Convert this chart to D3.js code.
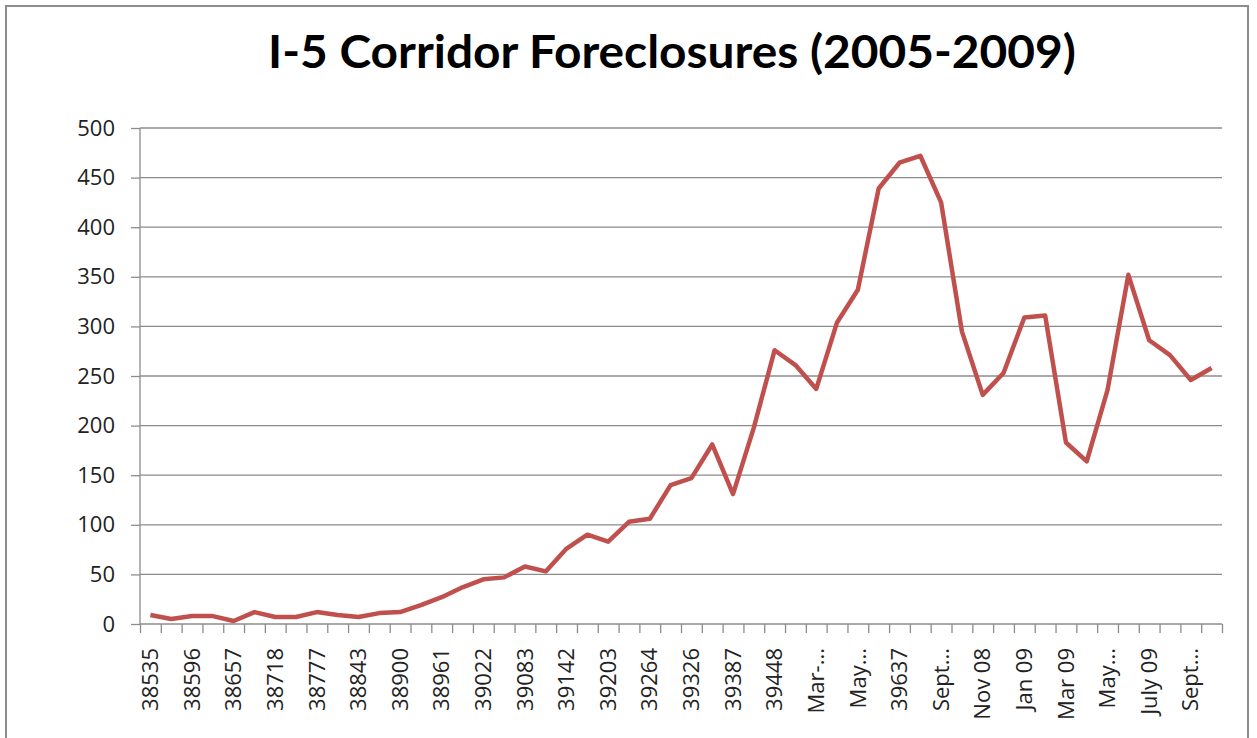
<!DOCTYPE html>
<html>
<head>
<meta charset="utf-8">
<script src="https://cdn.jsdelivr.net/npm/d3@7"></script>
<style>
    body { margin: 0; background: #fff; }
    text { font-family: "Open Sans", sans-serif; }
</style>
</head>
<body>
<script>
let months = ["2005-07", "2005-08", "2005-09", "2005-10", "2005-11", "2005-12",
    "2006-01", "2006-02", "2006-03", "2006-04", "2006-05", "2006-06",
    "2006-07", "2006-08", "2006-09", "2006-10", "2006-11", "2006-12",
    "2007-01", "2007-02", "2007-03", "2007-04", "2007-05", "2007-06",
    "2007-07", "2007-08", "2007-09", "2007-10", "2007-11", "2007-12",
    "2008-01", "2008-02", "2008-03", "2008-04", "2008-05", "2008-06",
    "2008-07", "2008-08", "2008-09", "2008-10", "2008-11", "2008-12",
    "2009-01", "2009-02", "2009-03", "2009-04", "2009-05", "2009-06",
    "2009-07", "2009-08", "2009-09", "2009-10"];

let foreclosures = [9, 5, 8, 8, 3, 12, 7, 7, 12, 9,
    7, 11, 12, 19, 27, 37, 45, 47, 58, 53,
    76, 90, 83, 103, 106, 140, 147, 181, 131, 198,
    276, 261, 237, 304, 337, 439, 465, 472, 425, 295,
    231, 253, 309, 311, 183, 164, 236, 352, 286, 271,
    246, 258];

// only every other month gets a label
let tickLabels = ["38535", "38596", "38657", "38718", "38777", "38843", "38900",
    "38961", "39022", "39083", "39142", "39203", "39264", "39326", "39387",
    "39448", "Mar-...", "May...", "39637", "Sept...", "Nov 08", "Jan 09",
    "Mar 09", "May...", "July 09", "Sept..."];

let yTicks = [0, 50, 100, 150, 200, 250, 300, 350, 400, 450, 500];

let width = 1257,
    height = 738,
    plotLeft = 140,
    plotRight = 1222,
    plotTop = 128,
    plotBottom = 624;

const svg = d3.select("body")
    .append("svg")
    .attr("width", width)
    .attr("height", height);

svg.append("rect")
    .attr("x", 6)
    .attr("y", 6)
    .attr("width", 1242)
    .attr("height", 745)
    .attr("fill", "#fff")
    .attr("stroke", "#8c8c8c")
    .attr("stroke-width", 2);

svg.append("text")
    .attr("x", 672)
    .attr("y", 68)
    .attr("text-anchor", "middle")
    .attr("textLength", 808)
    .attr("lengthAdjust", "spacingAndGlyphs")
    .style("font-family", "Lato, 'Open Sans', sans-serif")
    .style("font-weight", "bold")
    .style("font-size", "46px")
    .text("I-5 Corridor Foreclosures (2005-2009)");

const xScale = d3.scaleBand()
    .domain(months)
    .range([plotLeft, plotRight]);

const yScale = d3.scaleLinear()
    .domain([0, 500])
    .range([plotBottom, plotTop]);

// gridlines
svg.append("g")
    .selectAll("line")
    .data(yTicks.filter(d => d > 0))
    .enter()
    .append("line")
    .attr("x1", plotLeft)
    .attr("x2", plotRight)
    .attr("y1", d => yScale(d))
    .attr("y2", d => yScale(d))
    .attr("stroke", "#8c8c8c")
    .attr("stroke-width", 1.3);

const yAxis = d3.axisLeft(yScale)
    .tickValues(yTicks)
    .tickSize(9)
    .tickPadding(16);

const yG = svg.append("g")
    .attr("id", "y-axis")
    .attr("transform", "translate(" + plotLeft + ",0)")
    .call(yAxis);

yG.selectAll("line, path").attr("stroke", "#8c8c8c").attr("stroke-width", 1.3);
yG.select("path").attr("d", "M0," + plotTop + "V" + plotBottom);
yG.selectAll("text")
    .style("font-size", "22px")
    .attr("fill", "#222");

// tick marks between categories
const boundary = d3.scaleLinear()
    .domain([0, months.length])
    .range([plotLeft, plotRight]);

const tickAxis = d3.axisBottom(boundary)
    .tickValues(d3.range(months.length + 1))
    .tickSize(9)
    .tickFormat("");

const tG = svg.append("g")
    .attr("transform", "translate(0," + plotBottom + ")")
    .call(tickAxis);

tG.selectAll("line, path").attr("stroke", "#8c8c8c").attr("stroke-width", 1.3);
tG.select("path").attr("d", "M" + plotLeft + ",0H" + plotRight);

const labelMonths = months.filter((d, i) => i % 2 === 0);

const xAxis = d3.axisBottom(xScale)
    .tickValues(labelMonths)
    .tickSize(0)
    .tickFormat((d, i) => tickLabels[i]);

const xG = svg.append("g")
    .attr("id", "x-axis")
    .attr("transform", "translate(0," + plotBottom + ")")
    .call(xAxis);

xG.select("path").remove();
xG.selectAll("text")
    .style("font-size", "22px")
    .attr("fill", "#222")
    .attr("text-anchor", "end")
    .attr("transform", "translate(0,24) rotate(-90)")
    .attr("x", 0)
    .attr("y", 0)
    .attr("dy", "0.35em");

const line = d3.line()
    .x((d, i) => xScale(months[i]) + xScale.bandwidth() / 2)
    .y(d => yScale(d));

svg.append("path")
    .datum(foreclosures)
    .attr("d", line)
    .attr("fill", "none")
    .attr("stroke", "#c0504d")
    .attr("stroke-width", 4.5)
    .attr("stroke-linejoin", "round");
</script>
</body>
</html>
